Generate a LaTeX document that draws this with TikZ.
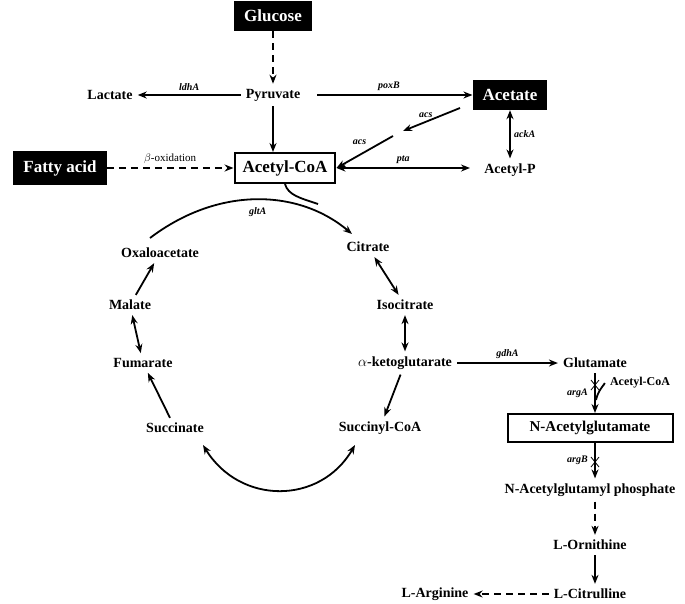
\documentclass[tikz,border=0pt]{standalone}
\usepackage{fontspec}
\setmainfont{Liberation Serif}
\usetikzlibrary{arrows.meta}
\begin{document}
\begin{tikzpicture}[x=1pt,y=-1pt,
  t/.style={font=\bfseries\fontsize{14}{16}\selectfont,inner sep=5pt},
  bb/.style={fill=black,text=white,font=\bfseries\fontsize{17}{19}\selectfont,minimum height=30,inner xsep=10pt},
  wb/.style={draw,line width=2pt,font=\bfseries\fontsize{17}{19}\selectfont,minimum height=30,inner xsep=8pt},
  lab/.style={font=\bfseries\itshape\fontsize{10}{11}\selectfont},
  ar/.style={line width=1.8pt,-{Stealth[length=9pt,width=7pt]}},
  dar/.style={line width=1.8pt,{Stealth[length=9pt,width=7pt]}-{Stealth[length=9pt,width=7pt]}},
  ds/.style={ar,dash pattern=on 7pt off 5pt}]
\useasboundingbox (0,0) rectangle (685,603);
\node[bb] (glc) at (273,16) {Glucose};
\node[t] (pyr) at (273,95) {Pyruvate};
\node[t] (lac) at (110,95) {Lactate};
\node[bb] (ace) at (510,95) {Acetate};
\node[wb] (acoa) at (285,168) {Acetyl-CoA};
\node[bb,minimum height=34] (fa) at (60,168) {Fatty acid};
\node[t] (acp) at (510,170) {Acetyl-P};
\coordinate (m1) at (403,131);
\coordinate (m2) at (393,136);
\draw[ds] (glc) -- (pyr);
\draw[ar] (pyr.west) -- node[lab,above]{ldhA} (lac);
\draw[ar,shorten <=12pt] (pyr.east) -- node[lab,above]{poxB} (ace.west);
\draw[ar] (pyr) -- (pyr |- acoa.north);
\draw[ar] (460,108) -- node[lab,above,pos=0.6]{acs} (m1);
\draw[ar] (m2) -- node[lab,above left,pos=0.4]{acs} (acoa.east);
\draw[dar] (acoa.east) -- node[lab,above]{pta} (470,168);
\draw[dar] (ace) -- node[lab,right]{ackA} (acp);
\draw[ds] (fa) -- node[font=\fontsize{11}{12}\selectfont,above]{$\beta$-oxidation} (acoa);
% TCA
\node[t] (cit) at (368,247) {Citrate};
\node[t] (ici) at (405,305) {Isocitrate};
\node[t] (akg) at (405,363) {$\alpha$-ketoglutarate};
\node[t] (sca) at (380,428) {Succinyl-CoA};
\node[t] (suc) at (175,428) {Succinate};
\node[t] (fum) at (143,363) {Fumarate};
\node[t] (mal) at (130,305) {Malate};
\node[t] (oaa) at (160,253) {Oxaloacetate};
\draw[ar] (150,238) .. controls (220,185) and (300,190) .. node[lab,pos=0.5,below=4pt]{gltA} (352,234);
\draw[line width=1.8pt] (acoa.south) .. controls (288,195) and (300,198) .. (318,204);
\draw[dar] (cit) -- (ici);
\draw[dar] (ici) -- (akg);
\draw[ar] (akg) -- (sca);
\draw[ar] (suc) -- (fum);
\draw[dar] (fum) -- (mal);
\draw[ar] (mal) -- (oaa);
\draw[dar] (355,445) .. controls (320,505) and (240,505) .. (203,445);
% right
\node[t] (glu) at (595,363) {Glutamate};
\node[t,font=\bfseries\fontsize{12}{14}\selectfont] (acoa2) at (640,383) {Acetyl-CoA};
\node[wb,minimum height=28,minimum width=165,font=\bfseries\fontsize{15}{17}\selectfont] (nag) at (590,428) {N-Acetylglutamate};
\node[t] (nagp) at (590,490) {N-Acetylglutamyl phosphate};
\node[t] (orn) at (590,545) {L-Ornithine};
\node[t] (cit2) at (590,594) {L-Citrulline};
\node[t] (arg) at (435,594) {L-Arginine};
\draw[ar] (akg) -- node[lab,above]{gdhA} (glu);
\draw[ar] (glu) -- node[lab,left=3pt,pos=0.5]{argA} (nag.north -| glu);
\draw[line width=1.8pt] (acoa2.west) .. controls (605,384) and (598,390) .. (596,400);
\draw[ar] (nag.south -| glu) -- node[lab,left=3pt]{argB} (nagp.north -| glu);
\draw[ds] (nagp.south -| glu) -- (orn.north -| glu);
\draw[ar] (orn.south -| glu) -- (cit2.north -| glu);
\draw[ds] (cit2) -- (arg);
\foreach \y in {385,462}{\draw[line width=0.8pt] (591,\y-5) -- (599,\y+5) (599,\y-5) -- (591,\y+5);}
\end{tikzpicture}
\end{document}
